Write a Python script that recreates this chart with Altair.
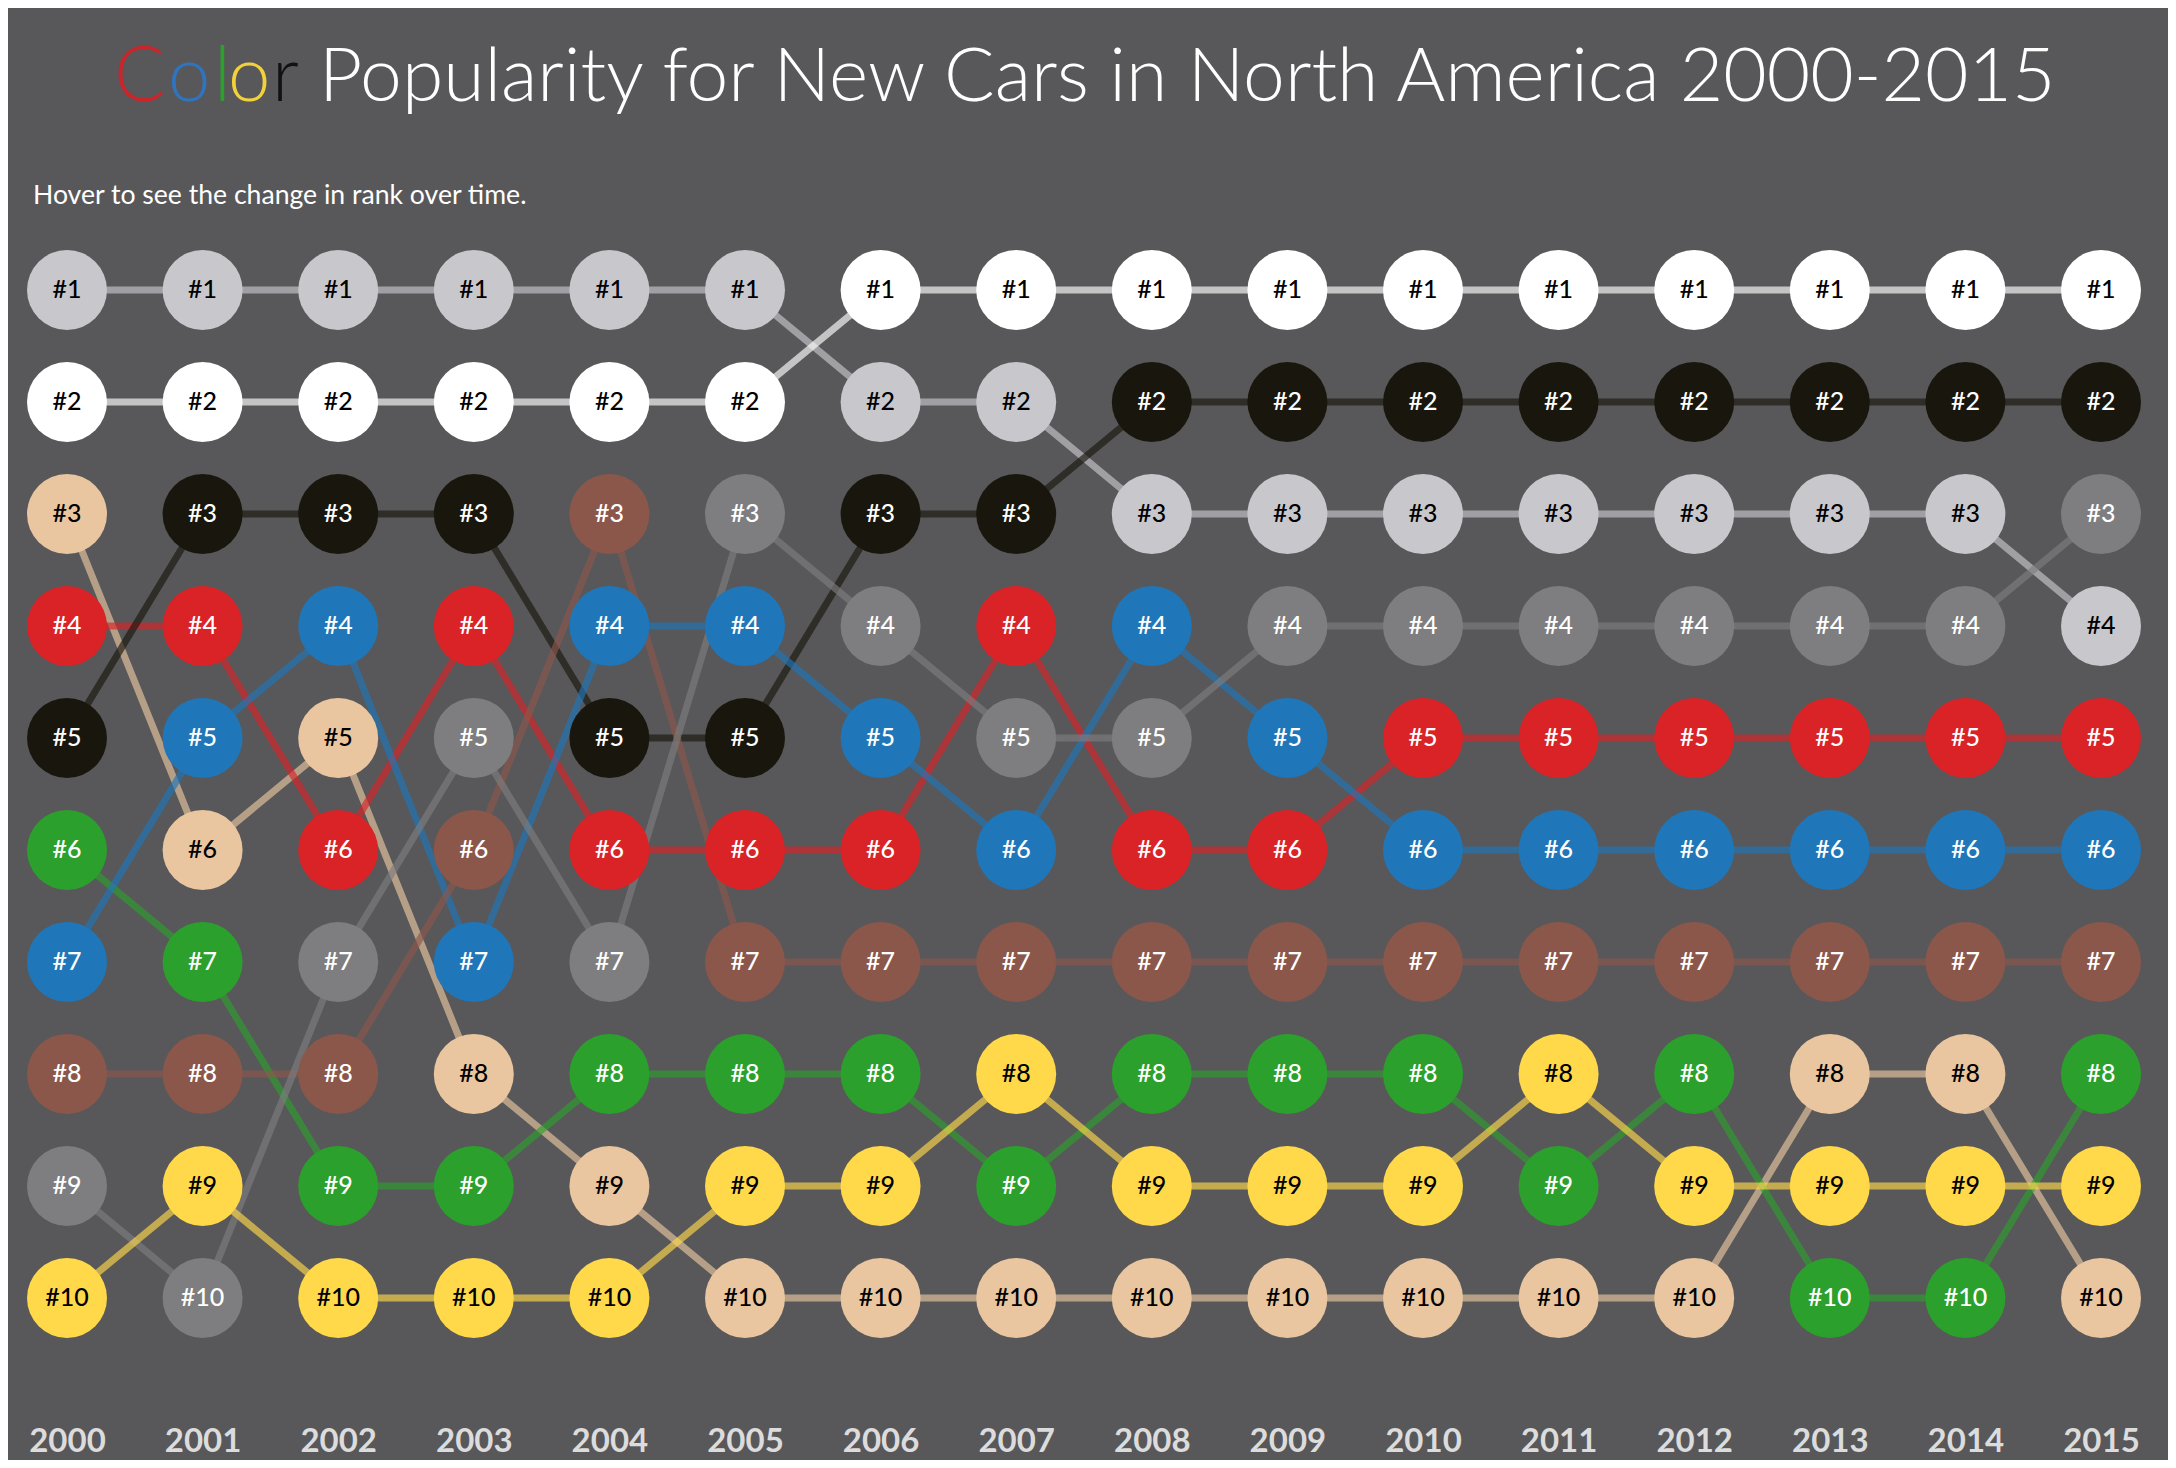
import altair as alt
import pandas as pd

years = list(range(2000, 2016))
names = ["silver", "white", "beige", "red", "black", "green", "blue", "brown", "gray", "yellow"]
fills = ["#c8c8cc", "#ffffff", "#e9c69f", "#d92327", "#19170d", "#2ca02c", "#1f77b9", "#8c574b", "#7e7e80", "#ffd94a"]
label_colors = ["#000000", "#000000", "#000000", "#ffffff", "#ffffff", "#ffffff", "#ffffff", "#ffffff", "#ffffff", "#000000"]

silver = [1, 1, 1, 1, 1, 1, 2, 2, 3, 3, 3, 3, 3, 3, 3, 4]
white = [2, 2, 2, 2, 2, 2, 1, 1, 1, 1, 1, 1, 1, 1, 1, 1]
beige = [3, 6, 5, 8, 9, 10, 10, 10, 10, 10, 10, 10, 10, 8, 8, 10]
red = [4, 4, 6, 4, 6, 6, 6, 4, 6, 6, 5, 5, 5, 5, 5, 5]
black = [5, 3, 3, 3, 5, 5, 3, 3, 2, 2, 2, 2, 2, 2, 2, 2]
green = [6, 7, 9, 9, 8, 8, 8, 9, 8, 8, 8, 9, 8, 10, 10, 8]
blue = [7, 5, 4, 7, 4, 4, 5, 6, 4, 5, 6, 6, 6, 6, 6, 6]
brown = [8, 8, 8, 6, 3, 7, 7, 7, 7, 7, 7, 7, 7, 7, 7, 7]
gray = [9, 10, 7, 5, 7, 3, 4, 5, 5, 4, 4, 4, 4, 4, 4, 3]
yellow = [10, 9, 10, 10, 10, 9, 9, 8, 9, 9, 9, 8, 9, 9, 9, 9]
ranks = [silver, white, beige, red, black, green, blue, brown, gray, yellow]

title_letters = ["C", "o", "l", "o", "r"]
title_letter_colors = ["#c9252b", "#2f74c0", "#2ca02c", "#f2d13a", "#111111"]
title_rest = "Popularity for New Cars in North America 2000-2015"
subtitle = "Hover to see the change in rank over time."

rows = []
for n, f, lc, rk in zip(names, fills, label_colors, ranks):
    for y, r in zip(years, rk):
        rows.append({"name": n, "fill": f, "lc": lc, "year": y, "rank": r, "label": f"#{r}"})
df = pd.DataFrame(rows)

W, H = 2034, 1008
FONT = "Lato"

xs = alt.X("year:Q", scale=alt.Scale(domain=[2000, 2015], nice=False, zero=False),
           axis=alt.Axis(values=years, format="d", title=None, domain=False, ticks=False, grid=False,
                         labelFont=FONT, labelFontSize=33, labelFontWeight="bold", labelColor="#dcdcdc",
                         labelPadding=143, labelBaseline="middle", labelFlush=False, labelOverlap=False))
ys = alt.Y("rank:Q", scale=alt.Scale(domain=[1, 10], reverse=True, nice=False, zero=False), axis=None)

base = alt.Chart(df)
lines = base.mark_line(strokeWidth=7, opacity=0.65).encode(
    x=xs, y=ys, detail="name:N", color=alt.Color("fill:N", scale=None), order="year:Q")
dots = base.mark_circle(size=6400, opacity=1).encode(
    x=xs, y=ys, color=alt.Color("fill:N", scale=None))
labels = base.mark_text(font=FONT, fontSize=25, fontWeight=500, baseline="middle", align="center").encode(
    x=xs, y=ys, text="label:N", color=alt.Color("lc:N", scale=None))

layers = [lines, dots, labels]

letter_x = [47, 101, 147, 161, 205]
for letter, col, lx in zip(title_letters, title_letter_colors, letter_x):
    layers.append(alt.Chart(pd.DataFrame({"t": [letter]})).mark_text(
        font=FONT, fontSize=76, fontWeight=300, align="left", baseline="alphabetic", color=col
    ).encode(text="t:N", x=alt.value(lx), y=alt.value(-189)))

layers.append(alt.Chart(pd.DataFrame({"t": [title_rest]})).mark_text(
    font=FONT, fontSize=75, fontWeight=300, align="left", baseline="alphabetic", color="#ffffff"
).encode(text="t:N", x=alt.value(252), y=alt.value(-189)))

layers.append(alt.Chart(pd.DataFrame({"t": [subtitle]})).mark_text(
    font=FONT, fontSize=26.6, fontWeight=400, align="left", baseline="alphabetic", color="#ffffff"
).encode(text="t:N", x=alt.value(-34), y=alt.value(-86)))

chart = alt.layer(*layers).properties(
    width=W, height=H,
    padding={"left": 59, "top": 282, "right": 67, "bottom": 162},
    autosize=alt.AutoSizeParams(type="none"),
    background="#58585a",
).configure_view(stroke=None)

chart.save("out.html", embed_options={"renderer": "svg", "actions": False})
